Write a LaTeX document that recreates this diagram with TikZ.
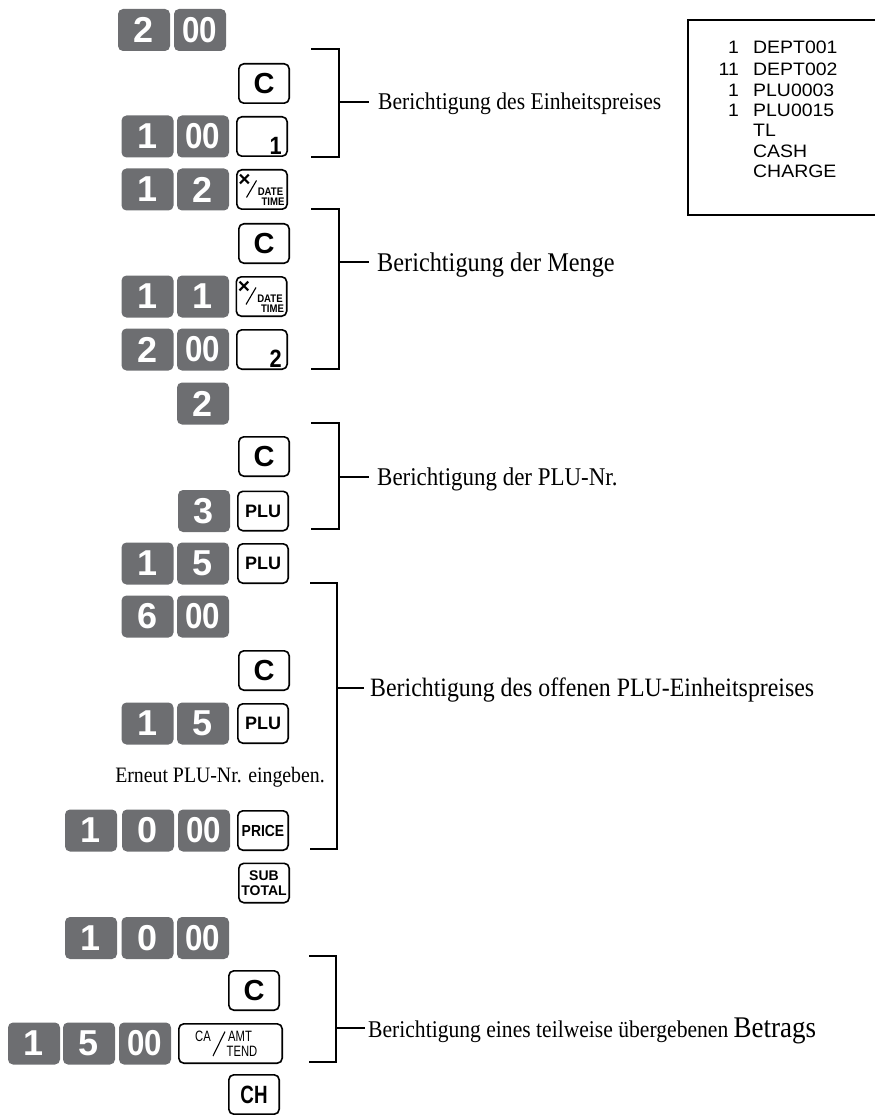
\documentclass[tikz,border=0pt]{standalone}
\usepackage{fontspec}
\setmainfont{Liberation Serif}
\newfontfamily\notefont{Liberation Serif}[FakeStretch=0.9]
\newfontfamily\keyfont{Liberation Sans}
\newfontfamily\slimfont{Liberation Sans}[FakeStretch=0.87]
\newfontfamily\thinfont{Liberation Sans}[FakeStretch=0.75]
\newfontfamily\rcptfont{Liberation Sans}[FakeStretch=1.08]
\usetikzlibrary{calc, positioning}
\definecolor{keygrey}{RGB}{109,110,113}
\newcommand{\pxsize}[1]{\fontsize{#1}{#1}\selectfont}
\tikzset{
    numkey/.style={rectangle, rounded corners=5pt, fill=keygrey, text=white, minimum width=52pt, minimum height=42pt, inner sep=0pt, font=\keyfont\bfseries\pxsize{36}},
    dblkey/.style={numkey, font=\slimfont\bfseries\pxsize{36}},
    fnkey/.style={rectangle, rounded corners=5pt, draw, line width=1.6pt, fill=white, minimum width=50.4pt, minimum height=39.4pt, inner sep=0pt, font=\keyfont\bfseries\pxsize{29}},
    plukey/.style={fnkey, font=\keyfont\bfseries\pxsize{18}},
    pricekey/.style={fnkey, font=\slimfont\bfseries\pxsize{16}},
    subkey/.style={fnkey, align=center, font=\keyfont\bfseries\fontsize{14}{15}\selectfont},
    chkey/.style={fnkey, font=\thinfont\bfseries\pxsize{25}},
    glyph/.style={inner sep=0pt, font=\slimfont\bfseries\pxsize{11}},
    amtglyph/.style={inner sep=0pt, font=\thinfont\pxsize{15}},
    slash/.style={line width=1.1pt},
    bracket/.style={line width=1.2pt},
    note/.style={anchor=base west, inner sep=0pt, font=\notefont\pxsize{27}},
    qty/.style={anchor=base east, inner sep=0pt, font=\rcptfont\pxsize{18}},
    item/.style={anchor=base west, inner sep=0pt, font=\rcptfont\pxsize{18}}
}
% faces of the department and x/date keys
\newcommand{\deptface}[2]{%
  \node[glyph, anchor=base east, font=\slimfont\bfseries\pxsize{25}] (#1n) at ($(#1.south east)+(-6,-2.5)$) {#2};}
\newcommand{\timeface}[1]{%
  \node[glyph, font=\keyfont\bfseries\pxsize{21}] (#1x) at ($(#1.north west)+(8.5,11.5)$) {×};
  \draw[slash] ($(#1.north west)+(10.5,28.5)$) -- ($(#1.north west)+(20.5,11.5)$);
  \node[glyph] (#1d) at ($(#1.north west)+(34.5,22.5)$) {DATE};
  \node[glyph] (#1t) at ($(#1.north west)+(37,32.5)$) {TIME};}

\begin{document}
\begin{tikzpicture}[x=1pt, y=-1pt]
  \useasboundingbox (0,0) rectangle (875,1115);

  % receipt
  \coordinate (r1) at (875,20);
  \coordinate (r2) at (688,215);
  \coordinate (r3) at (875,215);
  \draw[line width=1.3pt] (r1) -| (r2) -- (r3);
  \node[qty] (q1) at (739,54) {1};
  \node[item] (i1) at (753,54) {DEPT001};
  \node[qty] (q2) at (739,76) {11};
  \node[item] (i2) at (753,76) {DEPT002};
  \node[qty] (q3) at (739,96.5) {1};
  \node[item] (i3) at (753,96.5) {PLU0003};
  \node[qty] (q4) at (739,117) {1};
  \node[item] (i4) at (753,117) {PLU0015};
  \node[item] (i5) at (753,137) {TL};
  \node[item] (i6) at (753,157.5) {CASH};
  \node[item] (i7) at (753,178) {CHARGE};

  % keys
  \node[numkey] (k1) at (144,30) {2};
  \node[dblkey] (k2) at (200,30) {00};
  \node[fnkey] (c1) at (264,83.5) {C};
  \node[numkey] (k3) at (147.5,136.5) {1};
  \node[dblkey] (k4) at (203,136.5) {00};
  \node[fnkey] (d1) at (262,136.5) {};
  \deptface{d1}{1}
  \node[numkey] (k5) at (147.5,189.5) {1};
  \node[numkey] (k6) at (203,189.5) {2};
  \node[fnkey] (x1) at (262,189.5) {};
  \timeface{x1}
  \node[fnkey] (c2) at (264,243.5) {C};
  \node[numkey] (k7) at (147.5,296.5) {1};
  \node[numkey] (k8) at (203,296.5) {1};
  \node[fnkey] (x2) at (261.5,296.5) {};
  \timeface{x2}
  \node[numkey] (k9) at (147.5,349.5) {2};
  \node[dblkey] (k10) at (203,349.5) {00};
  \node[fnkey] (d2) at (262,349.5) {};
  \deptface{d2}{2}
  \node[numkey] (k11) at (203,403.5) {2};
  \node[fnkey] (c3) at (264,456.5) {C};
  \node[numkey] (k12) at (204,511) {3};
  \node[plukey] (p1) at (263,511) {PLU};
  \node[numkey] (k13) at (147.5,563.5) {1};
  \node[numkey] (k14) at (203,563.5) {5};
  \node[plukey] (p2) at (263,563.5) {PLU};
  \node[numkey] (k15) at (147.5,616.5) {6};
  \node[dblkey] (k16) at (203,616.5) {00};
  \node[fnkey] (c4) at (264,670.5) {C};
  \node[numkey] (k17) at (147.5,723.5) {1};
  \node[numkey] (k18) at (203,723.5) {5};
  \node[plukey] (p3) at (263,723.5) {PLU};
  \node[note, anchor=base, font=\notefont\pxsize{22}] (hint) at (220,782) {Erneut PLU-Nr. eingeben.};
  \node[numkey] (k19) at (91,830.5) {1};
  \node[numkey] (k20) at (148,830.5) {0};
  \node[dblkey] (k21) at (204,830.5) {00};
  \node[pricekey] (pr) at (263,830.5) {PRICE};
  \node[subkey] (st) at (264,883) {SUB\\TOTAL};
  \node[numkey] (k22) at (91,938) {1};
  \node[numkey] (k23) at (147.5,938) {0};
  \node[dblkey] (k24) at (203,938) {00};
  \node[fnkey] (c5) at (254,990.5) {C};
  \node[numkey] (k25) at (34,1043.5) {1};
  \node[numkey] (k26) at (89,1043.5) {5};
  \node[dblkey] (k27) at (145,1043.5) {00};
  \node[fnkey, minimum width=103.4pt] (ca) at (230.5,1043.5) {};
  \node[amtglyph] (caa) at ($(ca.north west)+(25,13.5)$) {CA};
  \draw[slash] ($(ca.north west)+(35,33)$) -- ($(ca.north west)+(47,8.5)$);
  \node[amtglyph] (cab) at ($(ca.north west)+(62,13.5)$) {AMT};
  \node[amtglyph] (cac) at ($(ca.north west)+(64,28)$) {TEND};
  \node[chkey] (ch) at (254,1094.5) {CH};

  % brackets
  \coordinate (b1t) at (311,49);
  \coordinate (b1m) at (339,102);
  \coordinate (b1b) at (311,157);
  \node[note, font=\notefont\pxsize{24}] (l1) at (378,110) {Berichtigung des Einheitspreises};
  \draw[bracket] (b1t) -| (b1m) |- (b1b);
  \draw[bracket, shorten >=9pt] (b1m) -- (b1m -| l1.west);

  \coordinate (b2t) at (311,209);
  \coordinate (b2m) at (339,262);
  \coordinate (b2b) at (311,369);
  \node[note] (l2) at (377,271) {Berichtigung der Menge};
  \draw[bracket] (b2t) -| (b2m) |- (b2b);
  \draw[bracket, shorten >=8pt] (b2m) -- (b2m -| l2.west);

  \coordinate (b3t) at (311,423);
  \coordinate (b3m) at (339,477);
  \coordinate (b3b) at (311,529);
  \node[note, font=\notefont\pxsize{25.5}] (l3) at (377,485.5) {Berichtigung der PLU-Nr.};
  \draw[bracket] (b3t) -| (b3m) |- (b3b);
  \draw[bracket, shorten >=8pt] (b3m) -- (b3m -| l3.west);

  \coordinate (b4t) at (310,583);
  \coordinate (b4m) at (337,688);
  \coordinate (b4b) at (310,849);
  \node[note, font=\notefont\pxsize{26.5}] (l4) at (370,696.5) {Berichtigung des offenen PLU-Einheitspreises};
  \draw[bracket] (b4t) -| (b4m) |- (b4b);
  \draw[bracket, shorten >=6pt] (b4m) -- (b4m -| l4.west);

  \coordinate (b5t) at (309,956);
  \coordinate (b5m) at (336,1028);
  \coordinate (b5b) at (309,1062);
  \node[note, font=\notefont\pxsize{24}] (l5) at (368,1037) {Berichtigung eines teilweise übergebenen {\pxsize{30}Betrags}};
  \draw[bracket] (b5t) -| (b5m) |- (b5b);
  \draw[bracket, shorten >=3pt] (b5m) -- (b5m -| l5.west);
\end{tikzpicture}
\end{document}
